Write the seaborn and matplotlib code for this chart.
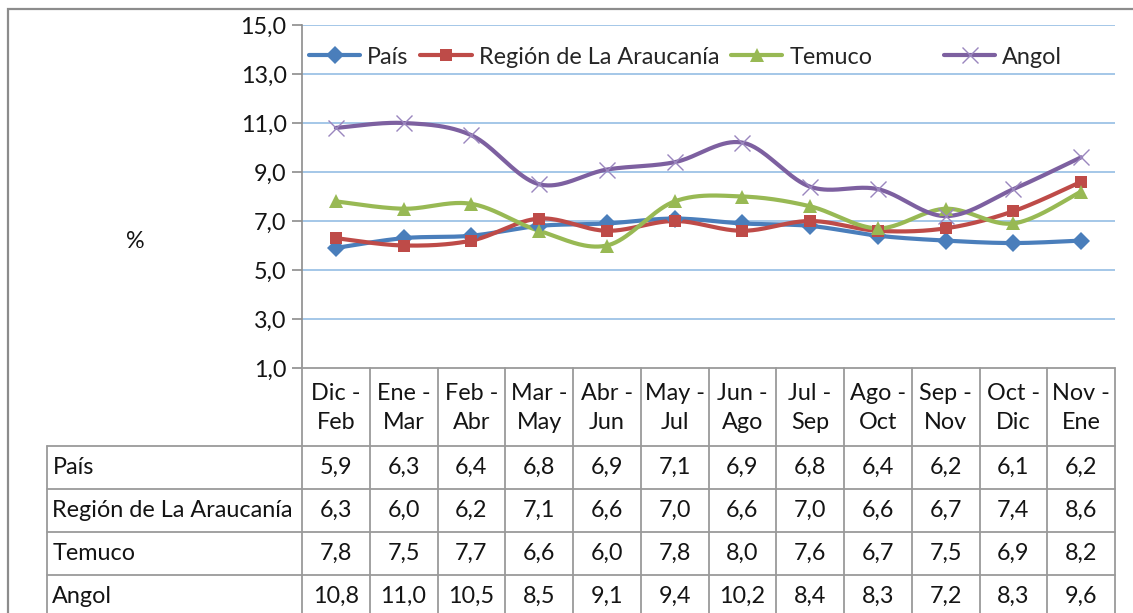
import numpy as np
import pandas as pd
import matplotlib
matplotlib.use("Agg")
import matplotlib.pyplot as plt
import seaborn as sns
from matplotlib.patches import Rectangle
from matplotlib.lines import Line2D

# ---------------- data ----------------
periods = ["Dic -\nFeb", "Ene -\nMar", "Feb -\nAbr", "Mar -\nMay", "Abr -\nJun", "May -\nJul",
           "Jun -\nAgo", "Jul -\nSep", "Ago -\nOct", "Sep -\nNov", "Oct -\nDic", "Nov -\nEne"]
series_names = ["País", "Región de La Araucanía", "Temuco", "Angol"]
pais = [5.9, 6.3, 6.4, 6.8, 6.9, 7.1, 6.9, 6.8, 6.4, 6.2, 6.1, 6.2]
region = [6.3, 6.0, 6.2, 7.1, 6.6, 7.0, 6.6, 7.0, 6.6, 6.7, 7.4, 8.6]
temuco = [7.8, 7.5, 7.7, 6.6, 6.0, 7.8, 8.0, 7.6, 6.7, 7.5, 6.9, 8.2]
angol = [10.8, 11.0, 10.5, 8.5, 9.1, 9.4, 10.2, 8.4, 8.3, 7.2, 8.3, 9.6]
y_ticks = [1, 3, 5, 7, 9, 11, 13, 15]

values = [pais, region, temuco, angol]
colors = ["#4A7EBB", "#BE4B48", "#98B954", "#7D60A0"]
marker_colors = ["#4A7EBB", "#BE4B48", "#98B954", "#9A86BE"]
markers = ["D", "s", "^", "x"]
marker_sizes = [9, 9, 10, 12]

sns.set_theme(style="white")
plt.rcParams["font.family"] = ["Lato", "DejaVu Sans"]
FS = 16.8
TXT = "#141414"

W, H = 1133, 613
fig = plt.figure(figsize=(W / 100, H / 100), dpi=100)


def fx(px):
    return px / W


def fy(py):
    return 1 - py / H


# outer chart border
fig.patches.append(Rectangle((fx(8), -0.05), 1.2, fy(9) + 0.05, transform=fig.transFigure,
                             fill=False, edgecolor="#8C8C8C", lw=1.6, zorder=0))

L, R, T, B = 302, 1115, 25, 368
ax = fig.add_axes([fx(L), fy(B), fx(R) - fx(L), fy(T) - fy(B)])


def smooth(y, n=40):
    x = np.arange(len(y), dtype=float)
    P = np.column_stack([x, np.asarray(y, float)])
    Pe = np.vstack([P[0], P, P[-1]])
    t = np.linspace(0, 1, n)
    out = []
    for i in range(len(P) - 1):
        p0, p1, p2, p3 = Pe[i], Pe[i + 1], Pe[i + 2], Pe[i + 3]
        c1 = p1 + (p2 - p0) / 6
        c2 = p2 - (p3 - p1) / 6
        seg = (((1 - t) ** 3)[:, None] * p1 + (3 * (1 - t) ** 2 * t)[:, None] * c1
               + (3 * (1 - t) * t ** 2)[:, None] * c2 + (t ** 3)[:, None] * p2)
        out.append(seg if i == 0 else seg[1:])
    return np.vstack(out)


xs = np.arange(len(periods))
for k, (name, vals) in enumerate(zip(series_names, values)):
    curve = smooth(vals)
    sns.lineplot(x=curve[:, 0], y=curve[:, 1], sort=False, estimator=None, ax=ax,
                 color=colors[k], lw=3.0, zorder=3 + k)
for k, (name, vals) in enumerate(zip(series_names, values)):
    if markers[k] == "x":
        ax.plot(xs, vals, linestyle="none", marker="x", markersize=marker_sizes[k],
                markeredgewidth=1.0, color=marker_colors[k], zorder=10)
    else:
        ax.plot(xs, vals, linestyle="none", marker=markers[k], markersize=marker_sizes[k],
                markeredgewidth=0, color=marker_colors[k], zorder=10)

ax.set_xlim(-0.5, len(periods) - 0.5)
ax.set_ylim(1, 15)
ax.set_yticks(y_ticks)
ax.set_yticklabels([f"{v:.1f}".replace(".", ",") for v in y_ticks], fontsize=FS, color=TXT)
ax.set_xticks([])
ax.grid(False)
for v in y_ticks[1:]:
    ax.axhline(v, color="#9DC3E6", lw=1.3, zorder=1)
for s in ["top", "right", "bottom"]:
    ax.spines[s].set_visible(False)
ax.spines["left"].set_color("#8C8C8C")
ax.spines["left"].set_linewidth(1.2)
ax.tick_params(axis="y", which="both", left=True, length=7, width=1.2, color="#8C8C8C", pad=4)
ax.patch.set_alpha(0)

# y label
fig.text(fx(135), fy(242), "%", fontsize=FS, ha="center", va="center", color=TXT)

# legends
def handle(k):
    if markers[k] == "x":
        return Line2D([], [], color=colors[k], lw=3.0, marker="x", markersize=marker_sizes[k],
                      markeredgewidth=1.0, markeredgecolor=marker_colors[k])
    return Line2D([], [], color=colors[k], lw=3.0, marker=markers[k], markersize=marker_sizes[k],
                  markeredgewidth=0, markerfacecolor=marker_colors[k])

leg_kw = dict(frameon=False, loc="center left", bbox_transform=fig.transFigure, fontsize=FS,
              handlelength=2.2, handletextpad=0.3, borderpad=0, borderaxespad=0)
leg1 = ax.legend([handle(k) for k in range(3)], series_names[:3], ncol=3,
                 bbox_to_anchor=(fx(309), fy(57)), columnspacing=0.5, **leg_kw)
ax.add_artist(leg1)
ax.legend([handle(3)], series_names[3:], bbox_to_anchor=(fx(944), fy(57)), **leg_kw)

# ---------------- data table ----------------
TL = 47
col_w = (R - L) / len(periods)
label_w = (L - TL) / col_w
tab = fig.add_axes([fx(TL), fy(618), fx(R) - fx(TL), fy(B) - fy(618)])
tab.set_xlim(-0.5 - label_w, len(periods) - 0.5)
row_edges = [0, 78, 121, 164, 207, 250]  # px below header top
tab.set_ylim(row_edges[-1], 0)
tab.axis("off")
grid_c = "#9A9A9A"
lw = 1.3
tab.plot([-0.5, len(periods) - 0.5], [0, 0], color=grid_c, lw=lw, clip_on=False)
for j in range(len(periods) + 1):
    tab.plot([j - 0.5, j - 0.5], [0, row_edges[-1]], color=grid_c, lw=lw, clip_on=False)
for r in row_edges[1:]:
    tab.plot([-0.5 - label_w, len(periods) - 0.5], [r, r], color=grid_c, lw=lw, clip_on=False)
tab.plot([-0.5 - label_w, -0.5 - label_w], [row_edges[1], row_edges[-1]], color=grid_c, lw=lw,
         clip_on=False)

for j, p in enumerate(periods):
    tab.text(j, row_edges[1] / 2 + 1, p, ha="center", va="center", fontsize=FS,
             linespacing=1.45, color=TXT)
for i, (name, vals) in enumerate(zip(series_names, values)):
    yc = (row_edges[i + 1] + row_edges[i + 2]) / 2
    tab.text(-0.5 - label_w + 0.08, yc, name, ha="left", va="center", fontsize=FS, color=TXT)
    for j, v in enumerate(vals):
        tab.text(j, yc, f"{v:.1f}".replace(".", ","), ha="center", va="center", fontsize=FS,
                 color=TXT)

fig.savefig("out.png", dpi=100)
